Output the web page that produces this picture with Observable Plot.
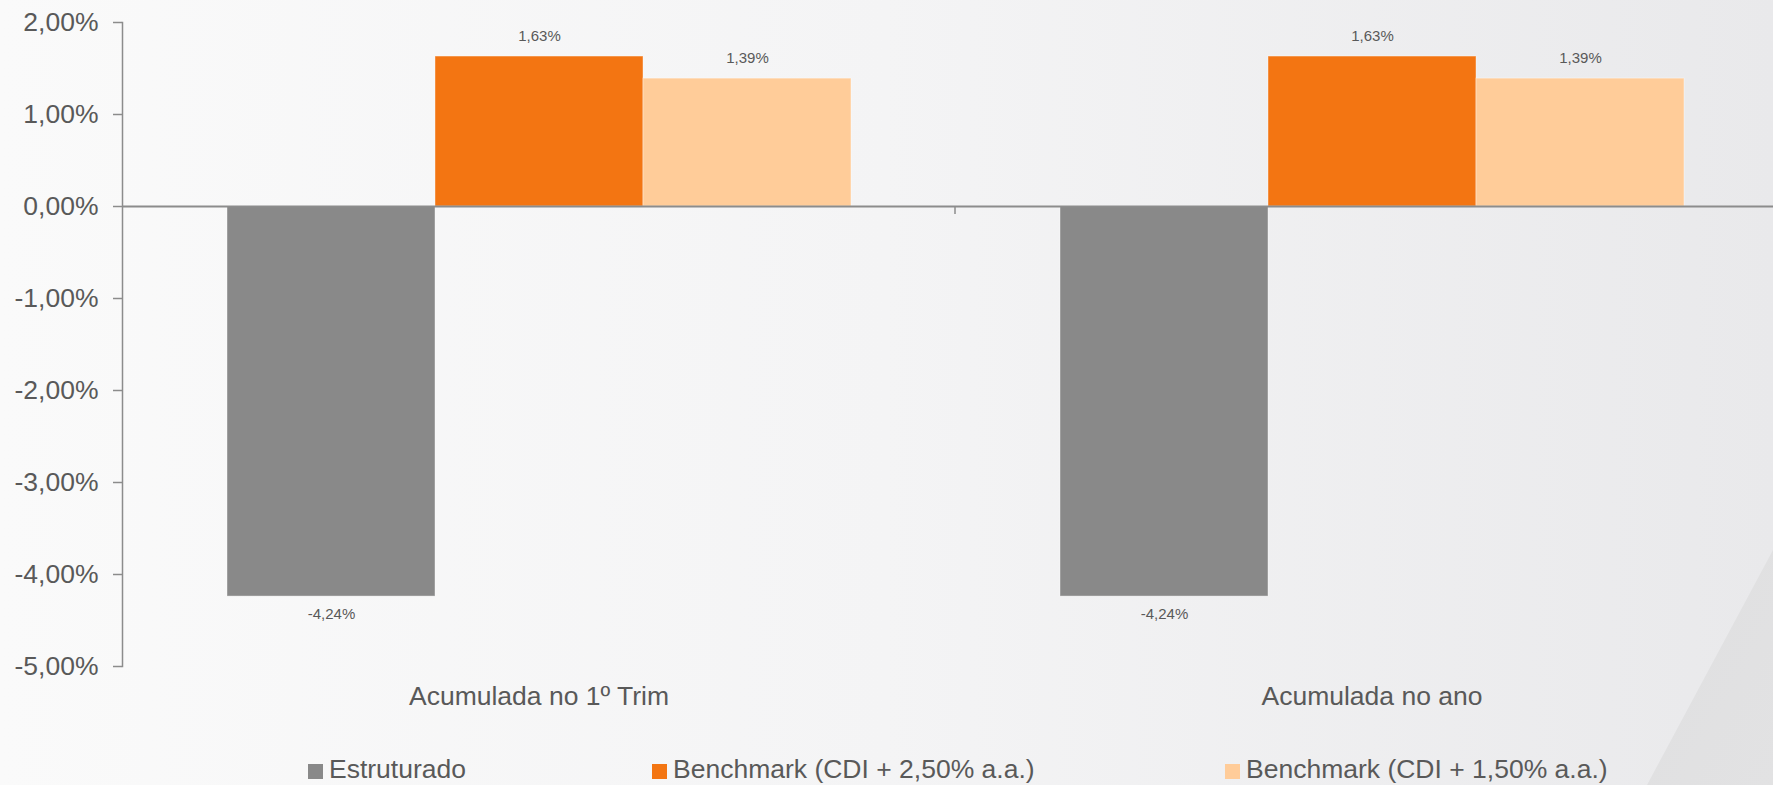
<!DOCTYPE html>
<html><head><meta charset="utf-8">
<script src="https://cdn.jsdelivr.net/npm/d3@7"></script>
<script src="https://cdn.jsdelivr.net/npm/@observablehq/plot@0.6"></script>
<style>
html,body{margin:0;padding:0;width:1773px;height:785px;overflow:hidden;}
body{background:linear-gradient(90deg,#fafafa 0%,#f4f4f5 50%,#e9e9eb 100%);font-family:"Liberation Sans",Arial,sans-serif;position:relative;}
#deco{position:absolute;left:0;top:0;width:1773px;height:785px;pointer-events:none;background:linear-gradient(120deg,#d3d3d5 0%,#d8d8da 60%,#e2e2e3 100%);clip-path:polygon(1773px 550px,1773px 785px,1647px 785px);}
#chart{position:relative;height:748px;}
#legend{position:relative;height:37px;font-size:26.5px;color:#595959;}
.item{position:absolute;top:1px;display:flex;align-items:center;height:40px;white-space:nowrap;}
.sw{width:15px;height:15px;margin-right:6px;margin-top:4px;}
</style></head><body>
<div id="deco"></div>
<div id="chart"></div>
<div id="legend"></div>
<script>
const categories = ["Acumulada no 1º Trim", "Acumulada no ano"];
const series = ["Estruturado", "Benchmark (CDI + 2,50% a.a.)", "Benchmark (CDI + 1,50% a.a.)"];
const estruturado = [-4.24, -4.24];
const bench250 = [1.63, 1.63];
const bench150 = [1.39, 1.39];
const colors = ["#898989", "#F37512", "#FFCC99"];
const yTicks = [-5, -4, -3, -2, -1, 0, 1, 2];

const valuesBySeries = [estruturado, bench250, bench150];
const data = [];
categories.forEach((c, i) => series.forEach((s, j) => data.push({category: c, series: s, value: valuesBySeries[j][i]})));

const fmt = v => v.toFixed(2).replace(".", ",") + "%";
const txt = "#595959";
const axisCol = "#8c8c8c";

const plot = Plot.plot({
  width: 1788, height: 748,
  marginLeft: 122, marginRight: 0, marginTop: 22, marginBottom: 82,
  style: {background: "transparent", fontFamily: "'Liberation Sans', Arial, sans-serif", color: txt, overflow: "visible", maxWidth: "none"},
  fx: {domain: categories, padding: 0, label: null},
  x: {domain: series, paddingInner: 0, paddingOuter: 0.5, axis: null},
  y: {domain: [-5, 2], label: null},
  color: {domain: series, range: colors},
  marks: [
    Plot.barY(data, {fx: "category", x: "series", y: "value", fill: "series", stroke: "#ffffff", strokeOpacity: 0.4, strokeWidth: 1}),
    Plot.ruleY([0], {stroke: axisCol, strokeWidth: 1.8}),
    Plot.frame({anchor: "left", facetAnchor: "left", stroke: axisCol, strokeWidth: 1.5}),
    Plot.axisY({ticks: yTicks, tickFormat: fmt, tickSize: 9, tickPadding: 15, fontSize: 26.5, stroke: axisCol, strokeWidth: 1.5, fill: txt, label: null, facetAnchor: "left"}),
    Plot.axisFx({anchor: "bottom", tickSize: 0, tickPadding: 20, fontSize: 26.5, fill: txt, label: null}),
    Plot.text(data.filter(d => d.value >= 0), {fx: "category", x: "series", y: "value", text: d => fmt(d.value), dy: -20, fontSize: 15, fill: txt}),
    Plot.text(data.filter(d => d.value < 0), {fx: "category", x: "series", y: "value", text: d => fmt(d.value), dy: 18, fontSize: 15, fill: txt})
  ]
});
document.getElementById("chart").appendChild(plot);

// category-axis tick mark between the two categories (Excel style)
const fxScale = plot.scale("fx");
const yScale = plot.scale("y");
const tickX = fxScale.apply(categories[1]);
const y0 = yScale.apply(0);
d3.select(plot).append("line")
  .attr("x1", tickX).attr("x2", tickX)
  .attr("y1", y0).attr("y2", y0 + 8)
  .attr("stroke", axisCol).attr("stroke-width", 1.5);

const legendLeft = [308, 652, 1225];
const legend = document.getElementById("legend");
series.forEach((s, i) => {
  const item = document.createElement("div");
  item.className = "item";
  item.style.left = legendLeft[i] + "px";
  const sw = document.createElement("span");
  sw.className = "sw";
  sw.style.background = colors[i];
  const t = document.createElement("span");
  t.textContent = s;
  item.appendChild(sw);
  item.appendChild(t);
  legend.appendChild(item);
});
</script>
</body></html>
